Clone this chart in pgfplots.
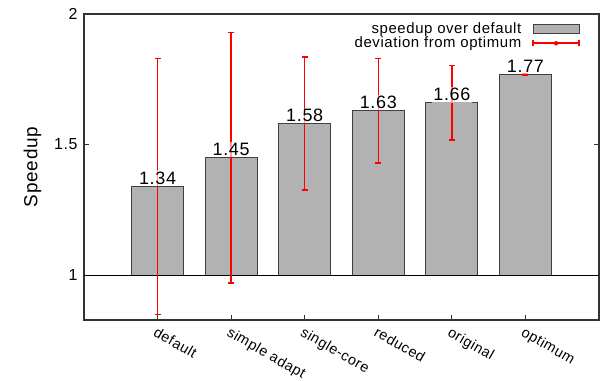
\documentclass[border=0pt]{standalone}
\usepackage{fontspec}
\setmainfont{Liberation Sans}[LetterSpace=4]
\usepackage{pgfplots}
\pgfplotsset{compat=1.18}
\usepackage{pgfplotstable}

\pgfplotstableread{
x s
1 1.34
2 1.45
3 1.58
4 1.63
5 1.66
6 1.77
}\speedup

\begin{document}
\begin{tikzpicture}
\path[use as bounding box] (-84bp,-61bp) rectangle (519bp,320bp);
\begin{axis}[
  at={(0,0)}, anchor=south west,
  scale only axis, width=515bp, height=306bp,
  xmin=0, xmax=7, ymin=-0.172, ymax=1,
  xtick={1,2,3,4,5,6},
  xticklabels={default, simple adapt, single-core, reduced, original, optimum},
  xtick pos=left,
  ytick={0,0.5,1}, yticklabels={1,1.5,2},
  tick align=inside,
  major tick length=5bp,
  tick style={black!80, line width=1bp},
  axis line style={black!80, line width=1.2bp},
  /pgf/number format/assume math mode=true,
  x tick label style={rotate=-30, anchor=north west, font=\fontsize{14.5}{16}\selectfont, inner sep=1bp, yshift=-4bp, xshift=2bp},
  y tick label style={font=\fontsize{16}{18}\selectfont, xshift=-3bp},
  ylabel={Speedup},
  ylabel shift=6bp,
  ylabel style={font=\fontsize{19}{21}\selectfont},
  legend style={at={(0.969,0.985)}, anchor=north east, draw=none, fill=none,
    font=\fontsize{15}{17}\selectfont, row sep=-2bp, column sep=9bp},
  legend cell align=right,
  legend plot pos=right,
  errbar/.style={draw=red, line width=1.5bp, mark=-, mark size=3bp, mark options={solid, draw=red, line width=1.5bp}, forget plot},
]
\addplot[ybar, bar width=52bp, fill=black!30, draw=black!75, line width=1bp,
  legend image code/.code={\draw[fill=black!30, draw=black!75, line width=1bp] (0bp,-4.5bp) rectangle (46bp,4.5bp);}]
  table[x=x, y expr=\thisrow{s}-1]{\speedup};
\addlegendentry{speedup over default}

\addplot[black, line width=1bp, forget plot] coordinates {(0,0) (7,0)};

% deviation from optimum: lower and upper ends of each red bar (speedup minus 1)
\addplot[errbar] coordinates {(-0.5,0) (-0.5,0.1)};
\addplot[errbar] coordinates {(6,0.767) (6,0.773)};
\addplot[errbar] coordinates {(5,0.517) (5,0.803)};
\addplot[errbar] coordinates {(4,0.43) (4,0.83)};
\addplot[errbar] coordinates {(3,0.325) (3,0.835)};
\addplot[errbar] coordinates {(2,-0.03) (2,0.93)};
\addplot[errbar] coordinates {(1,-0.15) (1,0.83)};

\addlegendimage{legend image code/.code={
    \draw[red, line width=1.5bp] (0bp,0bp) -- (46bp,0bp);
    \draw[red, line width=1.5bp] (0bp,-3bp) -- (0bp,3bp);
    \draw[red, line width=1.5bp] (46bp,-3bp) -- (46bp,3bp);
    \fill[red] (23bp,0bp) circle (2bp);}}
\addlegendentry{deviation from optimum}

\addplot[draw=none, mark=none, forget plot, point meta=explicit,
  nodes near coords,
  nodes near coords style={font=\fontsize{18}{20}\selectfont, anchor=south, inner sep=1.5bp,
    fill=white, fill opacity=0.6, text opacity=1,
    /pgf/number format/fixed, /pgf/number format/precision=2, /pgf/number format/fixed zerofill}]
  table[x=x, y expr=\thisrow{s}-1, meta=s]{\speedup};
\end{axis}
\end{tikzpicture}
\end{document}
